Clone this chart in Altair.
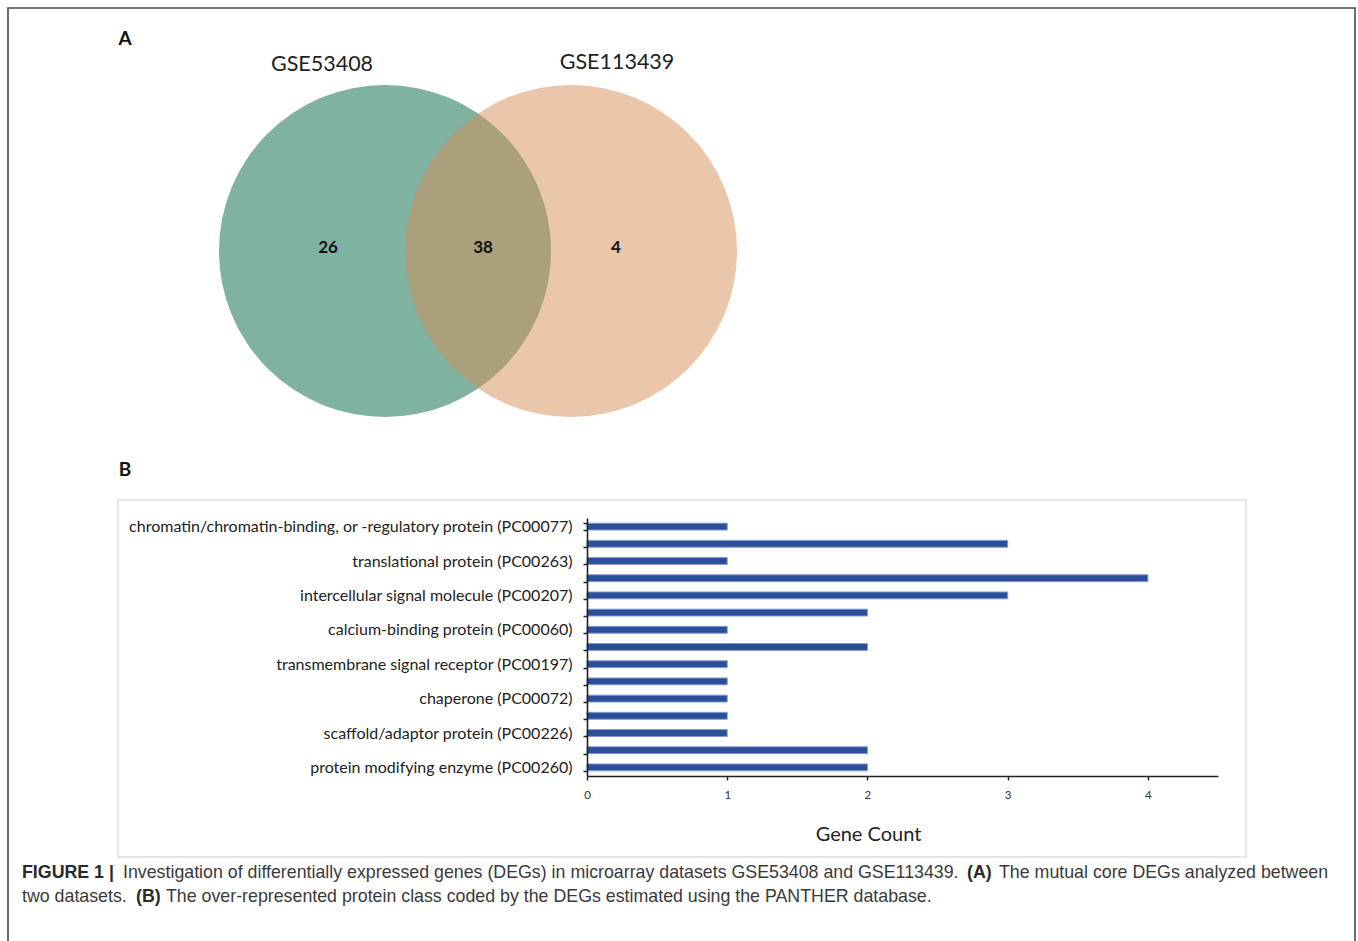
import json
import altair as alt
import pandas as pd

W, H = 1358, 941

# ---- data -------------------------------------------------------------
set_names = ["GSE53408", "GSE113439"]
region_counts = [26, 38, 4]  # only GSE53408, shared, only GSE113439

protein_classes = [
    "chromatin/chromatin-binding, or -regulatory protein (PC00077)",
    "",
    "translational protein (PC00263)",
    "",
    "intercellular signal molecule (PC00207)",
    "",
    "calcium-binding protein (PC00060)",
    "",
    "transmembrane signal receptor (PC00197)",
    "",
    "chaperone (PC00072)",
    "",
    "scaffold/adaptor protein (PC00226)",
    "",
    "protein modifying enzyme (PC00260)",
]
gene_counts = [1, 3, 1, 4, 3, 2, 1, 2, 1, 1, 1, 1, 1, 2, 2]
count_ticks = [0, 1, 2, 3, 4]

caption_segments = [
    ("FIGURE 1 |", True, 0),
    ("Investigation of differentially expressed genes (DEGs) in microarray datasets GSE53408 and GSE113439.", False, 0),
    ("(A)", True, 0),
    ("The mutual core DEGs analyzed between", False, 0),
    ("two datasets.", False, 1),
    ("(B)", True, 1),
    ("The over-represented protein class coded by the DEGs estimated using the PANTHER database.", False, 1),
]

# ---- layout (pixels) --------------------------------------------------
venn_cx = [385, 571]
venn_cy = 251
venn_r = 166
venn_colors = ["#006543", "#d58d57"]
venn_title_xy = [(322, 65), (617, 63)]
region_x = [328, 483, 616]
region_y = 248

bar_x_range = [587, 1218]
bar_y_range = [518, 776]

caption_x = [22, 123, 967, 999, 22, 136, 166]
caption_line_y = [873, 897]
caption_size = 17.8

# page-level pixel scales shared by all decoration layers
CX = alt.Scale(domain=[0, W], range=[0, W])
CY = alt.Scale(domain=[0, H], range=[0, H])


def px(field_x="x", field_y="y"):
    return dict(
        x=alt.X(f"{field_x}:Q", scale=CX, axis=None),
        y=alt.Y(f"{field_y}:Q", scale=CY, axis=None),
    )


def frame(x, x2, y, y2, **kw):
    df = pd.DataFrame({"x": [x], "x2": [x2], "y": [y], "y2": [y2]})
    return alt.Chart(df).mark_rect(**kw).encode(**px(), x2="x2:Q", y2="y2:Q")


outer = frame(8, 1355, 8, 1000, fillOpacity=0, stroke="#4a4a4a", strokeWidth=1.6)
inner = frame(118, 1246, 500, 857, fillOpacity=0, stroke="#dedede", strokeWidth=1.5)

venn_df = pd.DataFrame({"set": set_names, "x": venn_cx, "y": [venn_cy] * 2})
circles = alt.Chart(venn_df).mark_circle(
    size=(2 * venn_r) ** 2, opacity=0.5, stroke=None
).encode(
    **px(),
    color=alt.Color("set:N", scale=alt.Scale(domain=set_names, range=venn_colors), legend=None),
)

titles_df = pd.DataFrame({
    "t": set_names,
    "x": [p[0] for p in venn_title_xy],
    "y": [p[1] for p in venn_title_xy],
})
set_titles = alt.Chart(titles_df).mark_text(
    font="Lato", fontSize=21.5, color="#1e1e1e", baseline="middle", align="center"
).encode(**px(), text="t:N")

regions_df = pd.DataFrame({"t": [str(v) for v in region_counts], "x": region_x, "y": [region_y] * 3})
region_text = alt.Chart(regions_df).mark_text(
    font="Lato", fontSize=17, fontWeight="bold", color="#111", baseline="middle", align="center"
).encode(**px(), text="t:N")

panel_df = pd.DataFrame({"t": ["A", "B"], "x": [125, 125], "y": [39, 470]})
panel_letters = alt.Chart(panel_df).mark_text(
    font="Lato", fontSize=19, fontWeight="bold", color="#111", baseline="middle", align="center"
).encode(**px(), text="t:N")

cap_df = pd.DataFrame({
    "t": [s[0] for s in caption_segments],
    "bold": [s[1] for s in caption_segments],
    "x": caption_x,
    "y": [caption_line_y[s[2]] for s in caption_segments],
})
cap_regular = alt.Chart(cap_df[~cap_df["bold"]]).mark_text(
    font="Liberation Sans", fontSize=caption_size, color="#3a3a3a", baseline="middle", align="left"
).encode(**px(), text="t:N")
cap_bold = alt.Chart(cap_df[cap_df["bold"]]).mark_text(
    font="Liberation Sans", fontSize=caption_size, fontWeight="bold", color="#2a2a2a",
    baseline="middle", align="left"
).encode(**px(), text="t:N")

page = alt.layer(outer, inner, circles, set_titles, region_text, panel_letters, cap_regular, cap_bold)

# ---- panel B: horizontal bar chart ------------------------------------
bars_df = pd.DataFrame({"row": list(range(len(gene_counts))), "count": gene_counts})
label_expr = json.dumps(protein_classes) + "[datum.value]"

bars = alt.Chart(bars_df).mark_bar(
    color="#2c4e97", stroke="#7f9dd8", strokeWidth=1
).encode(
    x=alt.X(
        "count:Q",
        scale=alt.Scale(domain=[0, 4.5], range=bar_x_range, nice=False, zero=True),
        axis=alt.Axis(
            orient="bottom", offset=-(H - bar_y_range[1]), values=count_ticks, format="d",
            grid=False, domainColor="#222", domainWidth=1.6, tickColor="#222",
            tickSize=4, tickWidth=1.5, labelFont="Lato", labelFontSize=11.5,
            labelColor="#333", labelPadding=9, labelFlush=False, zindex=1,
            title="Gene Count", titleFont="Lato", titleFontSize=20,
            titleFontWeight="normal", titleColor="#222",
            titleX=868, titleY=58, titleBaseline="middle", titleAlign="center",
        ),
    ),
    y=alt.Y(
        "row:O",
        scale=alt.Scale(domain=list(range(len(gene_counts))), range=bar_y_range,
                        paddingInner=0.6, paddingOuter=0.3),
        axis=alt.Axis(
            orient="left", offset=-bar_x_range[0], tickBand="extent", labelExpr=label_expr,
            title=None, grid=False, domainColor="#222", domainWidth=1.6, zindex=1,
            tickColor="#222", tickSize=4, tickWidth=1.5, labelFont="Lato",
            labelFontSize=16, labelColor="#222", labelPadding=11, labelLimit=700,
        ),
    ),
)

chart = alt.layer(page, bars).resolve_scale(
    x="independent", y="independent"
).properties(
    width=W, height=H, padding=0, autosize=alt.AutoSizeParams(type="none"), background="white"
).configure_view(stroke=None)

chart.save("out.html", embed_options={"renderer": "svg", "actions": False})
